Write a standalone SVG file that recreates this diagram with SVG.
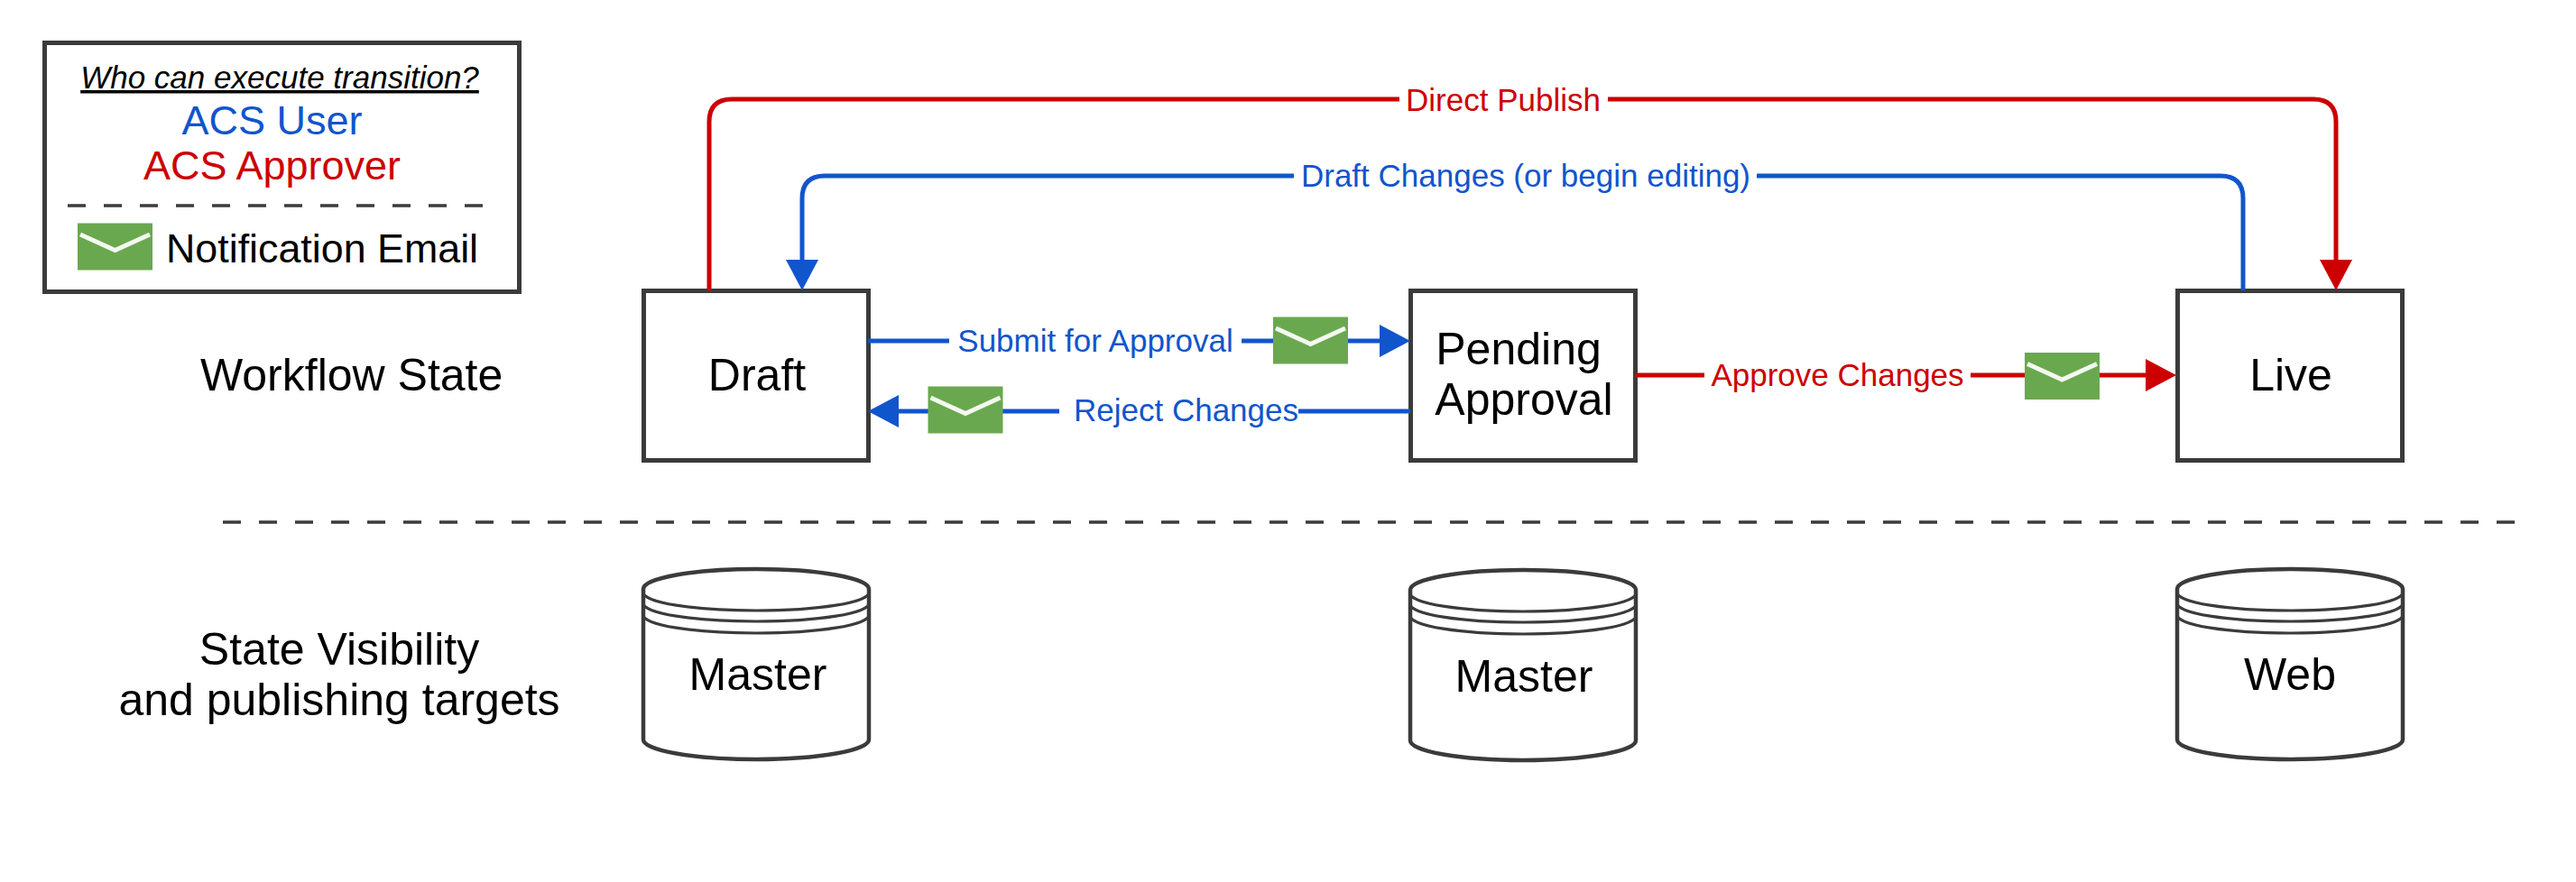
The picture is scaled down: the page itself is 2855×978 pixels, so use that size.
<svg xmlns="http://www.w3.org/2000/svg" xmlns:xlink="http://www.w3.org/1999/xlink" width="2855" height="978" viewBox="0 0 2855 978">
<style>
text{font-family:"Liberation Sans",Arial,sans-serif;fill:#000}
.mid{text-anchor:middle}
.n{font-size:50px}
.leg{font-size:45px}
.lb{font-size:35px}
.blue{fill:#1155cc}
.red{fill:#cc0000}
.box{fill:#fff;stroke:#3b3b3b;stroke-width:5}
.cyl{fill:#fff;stroke:#3b3b3b;stroke-width:4.5}
.band{fill:none;stroke:#3b3b3b;stroke-width:3.2}
.dash{fill:none;stroke:#3b3b3b;stroke-width:3.5;stroke-dasharray:20 20}
.cb{fill:none;stroke:#1155cc;stroke-width:5}
.cr{fill:none;stroke:#cc0000;stroke-width:5}
.gap{fill:#fff}
</style>
<defs>
<marker id="hb" markerUnits="userSpaceOnUse" markerWidth="37" markerHeight="37" viewBox="0 0 34 37" refX="4" refY="18.5" orient="auto"><path d="M0,0.5 L34,18.5 L0,36.5Z" fill="#1155cc"/></marker>
<marker id="hr" markerUnits="userSpaceOnUse" markerWidth="37" markerHeight="37" viewBox="0 0 34 37" refX="4" refY="18.5" orient="auto"><path d="M0,0.5 L34,18.5 L0,36.5Z" fill="#cc0000"/></marker>
<g id="env"><rect width="83" height="52" fill="#6aa84f"/><path d="M3,12.5 L41.5,30 L80,12.5" fill="none" stroke="#f3f8f0" stroke-width="5"/></g>
<g id="cylbody">
<path class="cyl" d="M0,24 A125,22 0 0 1 250,24 V191 A125,22 0 0 1 0,191Z"/>
<path class="band" d="M0,28 A125,20 0 0 0 250,28"/>
<path class="band" d="M0,40 A125,20 0 0 0 250,40"/>
<path class="band" d="M0,53 A125,20 0 0 0 250,53"/>
</g>
</defs>
<rect width="2855" height="978" fill="#fff"/>

<g id="legend">
<rect class="box" x="49.5" y="47.5" width="526" height="276"/>
<text class="mid" x="310" y="98" font-size="35" font-style="italic" text-decoration="underline">Who can execute transition?</text>
<text class="mid leg blue" x="301.5" y="149">ACS User</text>
<text class="mid leg red" x="301.5" y="199">ACS Approver</text>
<path class="dash" d="M75,228 H535"/>
<use xlink:href="#env" href="#env" x="86" y="247.5"/>
<text class="leg" x="184" y="291" font-size="44.8" style="font-size:44.8px">Notification Email</text>
</g>

<g id="label-workflow-state"><text class="n" x="222" y="433">Workflow State</text></g>
<g id="label-visibility">
<text class="n mid" x="376" y="737">State Visibility</text>
<text class="n mid" x="376" y="793">and publishing targets</text>
</g>
<path id="divider" class="dash" d="M247,579 H2788"/>

<g id="node-draft"><rect class="box" x="713.5" y="322.5" width="249" height="188"/><text class="n mid" x="839" y="433">Draft</text></g>
<g id="node-pending"><rect class="box" x="1563.5" y="322.5" width="249" height="188"/><text class="n mid" x="1683" y="404">Pending</text><text class="n mid" x="1689" y="460">Approval</text></g>
<g id="node-live"><rect class="box" x="2413.5" y="322.5" width="249" height="188"/><text class="n mid" x="2539" y="433">Live</text></g>

<g id="db-draft"><use xlink:href="#cylbody" href="#cylbody" x="713" y="629"/><text class="n mid" x="840" y="765">Master</text></g>
<g id="db-pending"><use xlink:href="#cylbody" href="#cylbody" x="1563" y="630"/><text class="n mid" x="1689" y="767">Master</text></g>
<g id="db-live"><use xlink:href="#cylbody" href="#cylbody" x="2413" y="629"/><text class="n mid" x="2538" y="765">Web</text></g>

<g id="connectors">
<path class="cr" d="M786,322 V135 Q786,110 811,110 H2564 Q2589,110 2589,135 V292" marker-end="url(#hr)"/>
<path class="cb" d="M2486,322 V220 Q2486,195 2461,195 H914 Q889,195 889,220 V292" marker-end="url(#hb)"/>
<path class="cb" d="M962,378 H1533" marker-end="url(#hb)"/>
<path class="cb" d="M1563,456 H992" marker-end="url(#hb)"/>
<path class="cr" d="M1812,416 H2382" marker-end="url(#hr)"/>

<rect class="gap" x="1551" y="90" width="231" height="40"/>
<text class="lb mid red" x="1666" y="123">Direct Publish</text>
<rect class="gap" x="1434" y="175" width="513" height="42"/>
<text class="lb mid blue" x="1691" y="207">Draft Changes (or begin editing)</text>
<rect class="gap" x="1052" y="358" width="324" height="42"/>
<text class="lb mid blue" x="1214" y="390">Submit for Approval</text>
<rect class="gap" x="1174" y="436" width="265" height="42"/>
<text class="lb mid blue" x="1314.5" y="467">Reject Changes</text>
<rect class="gap" x="1889" y="396" width="295" height="42"/>
<text class="lb mid red" x="2036.5" y="428">Approve Changes</text>
</g>

<g id="email-submit"><use xlink:href="#env" href="#env" x="1411" y="351.5"/></g>
<g id="email-reject"><use xlink:href="#env" href="#env" x="1028.5" y="428.5"/></g>
<g id="email-approve"><use xlink:href="#env" href="#env" x="2244" y="391"/></g>
</svg>
